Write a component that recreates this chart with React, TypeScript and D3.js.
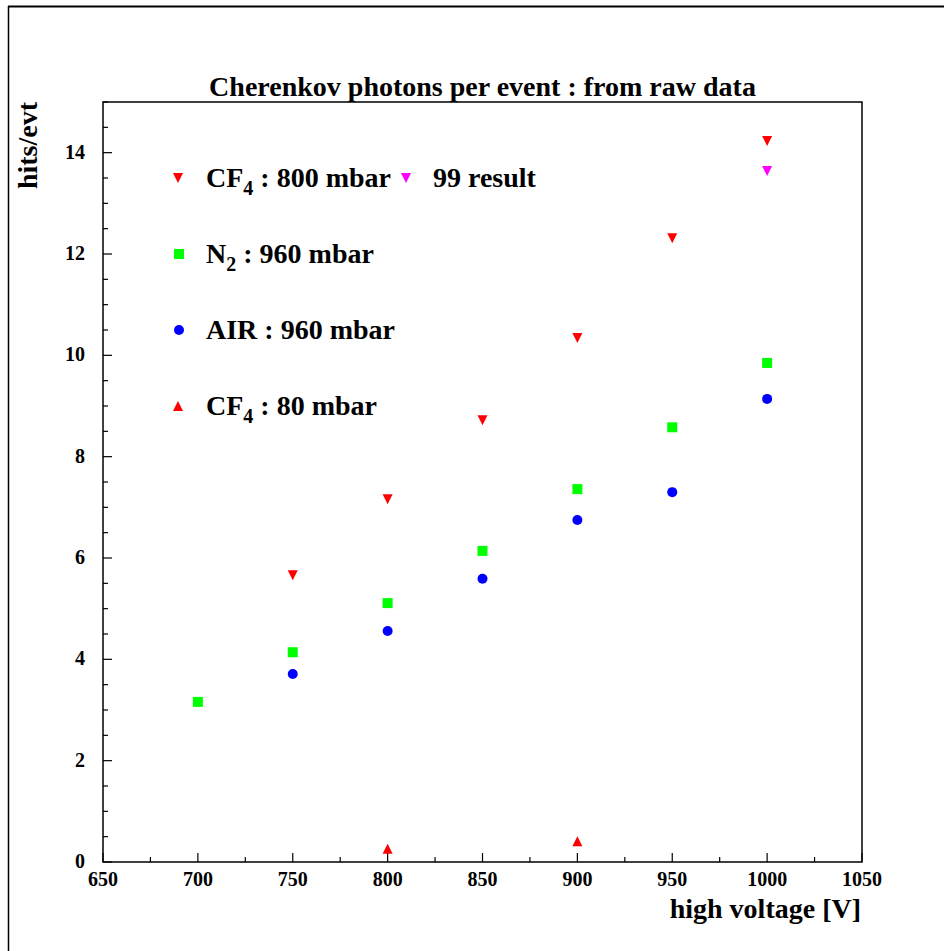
import React from "react";
import * as d3 from "d3";

const cf4_800_x = [750, 800, 850, 900, 950, 1000];
const cf4_800_y = [5.66, 7.16, 8.72, 10.34, 12.31, 14.23];
const r99_x = [1000];
const r99_y = [13.64];
const n2_x = [700, 750, 800, 850, 900, 950, 1000];
const n2_y = [3.16, 4.14, 5.11, 6.14, 7.36, 8.58, 9.85];
const air_x = [750, 800, 850, 900, 950, 1000];
const air_y = [3.71, 4.56, 5.59, 6.75, 7.3, 9.14];
const cf4_80_x = [800, 900];
const cf4_80_y = [0.26, 0.41];

const xTicks = [650, 700, 750, 800, 850, 900, 950, 1000, 1050];
const yTicks = [0, 2, 4, 6, 8, 10, 12, 14];

const W = 944, H = 951;
const L = 103, R = 862, T = 102, B = 862;
const FONT = "Liberation Serif, Times New Roman, Times, DejaVu Serif, serif";

function Marker({ kind, x, y, color }: { kind: string; x: number; y: number; color: string }) {
  const s = 5;
  if (kind === "down")
    return <path d={`M${x - s},${y - s}L${x + s},${y - s}L${x},${y + s}Z`} fill={color} />;
  if (kind === "up")
    return <path d={`M${x - s},${y + s}L${x + s},${y + s}L${x},${y - s}Z`} fill={color} />;
  if (kind === "square")
    return <rect x={x - 5} y={y - 5} width={10} height={10} fill={color} />;
  return <circle cx={x} cy={y} r={5} fill={color} />;
}

export default function App() {
  const xs = d3.scaleLinear().domain([650, 1050]).range([L, R]);
  const ys = d3.scaleLinear().domain([0, 15]).range([B, T]);
  const xMinor = d3.range(650, 1051, 25);
  const yMinor = d3.range(0, 15.01, 0.5);

  const series = [
    { xs: cf4_800_x, ys: cf4_800_y, kind: "down", color: "#ff0000" },
    { xs: r99_x, ys: r99_y, kind: "down", color: "#ff00ff" },
    { xs: n2_x, ys: n2_y, kind: "square", color: "#00ff00" },
    { xs: air_x, ys: air_y, kind: "circle", color: "#0000ff" },
    { xs: cf4_80_x, ys: cf4_80_y, kind: "up", color: "#ff0000" },
  ];

  const bold = { fontWeight: "bold" } as const;
  const legendText = { fontWeight: "bold", fontSize: 28 } as const;

  return (
    <svg width={W} height={H} style={{ position: "absolute", left: 0, top: 0, background: "#fff", fontFamily: FONT }}>
      <rect x={0} y={0} width={W} height={H} fill="#fff" />
      <line x1={8} y1={6.5} x2={W} y2={6.5} stroke="#000" strokeWidth={2} />
      <line x1={8.5} y1={6} x2={8.5} y2={H} stroke="#000" strokeWidth={1.5} />

      <text x={(L + R) / 2} y={96} textAnchor="middle" {...bold} fontSize={28}>
        Cherenkov photons per event : from raw data
      </text>

      <rect x={L} y={T} width={R - L} height={B - T} fill="none" stroke="#000" strokeWidth={1.5} />

      {xMinor.map((v) => (
        <line key={"xm" + v} x1={xs(v)} x2={xs(v)} y1={B} y2={B - (v % 50 === 0 ? 9 : 5)} stroke="#000" strokeWidth={1.2} />
      ))}
      {yMinor.map((v) => (
        <line key={"ym" + v} x1={L} x2={L + (v % 2 === 0 ? 9 : 5)} y1={ys(v)} y2={ys(v)} stroke="#000" strokeWidth={1.2} />
      ))}
      {xTicks.map((v) => (
        <text key={"xl" + v} x={xs(v)} y={886} textAnchor="middle" {...bold} fontSize={20}>
          {v}
        </text>
      ))}
      {yTicks.map((v) => (
        <text key={"yl" + v} x={85} y={ys(v) + 6} textAnchor="end" {...bold} fontSize={20}>
          {v}
        </text>
      ))}

      <text x={861} y={918} textAnchor="end" {...bold} fontSize={28}>
        high voltage [V]
      </text>
      <text transform={`translate(37,102) rotate(-90)`} textAnchor="end" {...bold} fontSize={28}>
        hits/evt
      </text>

      {series.map((s, i) =>
        s.xs.map((xv, j) => (
          <Marker key={i + "-" + j} kind={s.kind} x={xs(xv)} y={ys(s.ys[j])} color={s.color} />
        ))
      )}

      {/* legend */}
      <Marker kind="down" x={178} y={178} color="#ff0000" />
      <text x={206} y={187} {...legendText}>
        CF<tspan fontSize={20} dy={8}>4</tspan><tspan dy={-8}> : 800 mbar</tspan>
      </text>
      <Marker kind="down" x={406} y={178} color="#ff00ff" />
      <text x={433} y={187} {...legendText}>99 result</text>

      <Marker kind="square" x={179} y={254} color="#00ff00" />
      <text x={206} y={263} {...legendText}>
        N<tspan fontSize={20} dy={8}>2</tspan><tspan dy={-8}> : 960 mbar</tspan>
      </text>

      <Marker kind="circle" x={179} y={330} color="#0000ff" />
      <text x={206} y={339} {...legendText}>AIR : 960 mbar</text>

      <Marker kind="up" x={178} y={406} color="#ff0000" />
      <text x={206} y={415} {...legendText}>
        CF<tspan fontSize={20} dy={8}>4</tspan><tspan dy={-8}> : 80 mbar</tspan>
      </text>
    </svg>
  );
}
